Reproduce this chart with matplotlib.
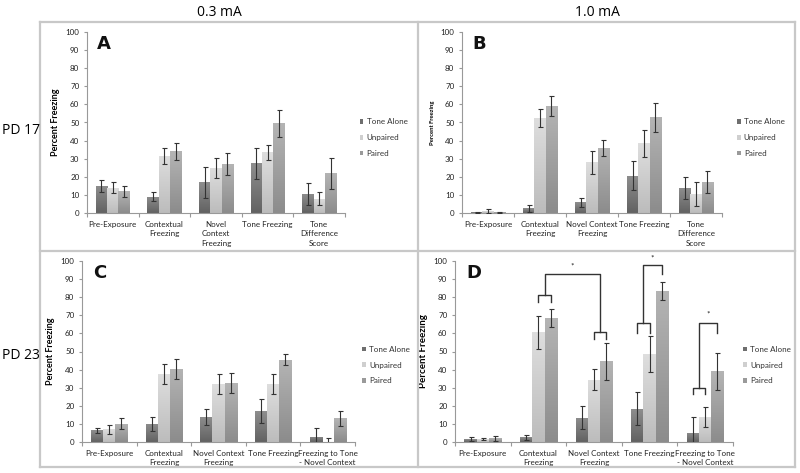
import matplotlib
matplotlib.use("Agg")
import matplotlib.pyplot as plt
import numpy as np
from matplotlib.lines import Line2D
from matplotlib.patches import Patch

plt.rcParams['font.family'] = ['Lato', 'DejaVu Sans']

series = ["Tone Alone", "Unpaired", "Paired"]

cats_A = ["Pre-Exposure", "Contextual\nFreezing", "Novel\nContext\nFreezing", "Tone Freezing", "Tone\nDifference\nScore"]
cats_B = ["Pre-Exposure", "Contextual\nFreezing", "Novel Context\nFreezing", "Tone Freezing", "Tone\nDifference\nScore"]
cats_C = ["Pre-Exposure", "Contextual\nFreezing", "Novel Context\nFreezing", "Tone Freezing", "Freezing to Tone\n- Novel Context"]
cats_D = cats_C

# values [series][category]
A_vals = [[15, 9, 17, 27.5, 10.5], [14, 31.5, 25, 33.5, 8], [12, 34, 27, 49.5, 22]]
A_err = [[3.5, 2.5, 8.5, 8.5, 6], [3, 4.5, 5.5, 4, 3.5], [3, 4.5, 6, 7.5, 8.5]]
B_vals = [[0.5, 2.5, 6, 20.5, 14], [1, 52.5, 28, 38.5, 10.5], [0.5, 59, 36, 53, 17]]
B_err = [[0.3, 1.8, 2.5, 8, 6], [1, 5, 6.5, 7.5, 6.5], [0.3, 5.5, 4.5, 8, 6]]
C_vals = [[6.5, 10, 14, 17, 3], [7, 37.5, 32, 32, 0], [10, 40.5, 32.5, 45.5, 13]]
C_err = [[1.5, 4, 4.5, 6.5, 4.5], [2.5, 5.5, 5.5, 5.5, 2], [3, 5.5, 5.5, 3, 4]]
D_vals = [[1.5, 2.5, 13.5, 18.5, 5], [1.5, 60.5, 34.5, 48.5, 14], [2, 68.5, 44.5, 83.5, 39]]
D_err = [[1, 1.5, 6.5, 9, 9], [0.5, 9, 6, 10, 5.5], [1.5, 5, 10, 5, 10]]

W, H = 800, 473
fig = plt.figure(figsize=(8, 4.73), dpi=100)
fig.patch.set_facecolor("white")

def px_axes(l, r, y0, y100):
    return fig.add_axes([l / W, (H - y0) / H, (r - l) / W, (y0 - y100) / H])

top_colors = ["#8e8e8e", "#dedede", "#b4b4b4"]
bot_colors = ["#626262", "#bcbcbc", "#8c8c8c"]
legend_colors = ["#6e6e6e", "#cfcfcf", "#9a9a9a"]
bw = 0.22

def grad(c1, c2, n=64):
    a = np.array(matplotlib.colors.to_rgb(c1))
    b = np.array(matplotlib.colors.to_rgb(c2))
    t = np.linspace(0, 1, n)[:, None]
    return (a * (1 - t) + b * t)[:, None, :]

def draw_panel(ax, cats, vals, errs, letter, ylab_size, leg_pos):
    x = np.arange(len(cats))
    for i in range(3):
        xs = x + (i - 1) * bw
        bars = ax.bar(xs, vals[i], width=bw, color=legend_colors[i], zorder=2)
        img = grad(top_colors[i], bot_colors[i])
        for b in bars:
            bx = b.get_x()
            h = b.get_height()
            if h <= 0:
                continue
            im = ax.imshow(img, extent=[bx, bx + bw, 0, h], aspect='auto',
                           origin='upper', zorder=2.5)
            im.set_clip_path(b)
        ax.errorbar(xs, vals[i], yerr=errs[i], fmt='none', ecolor='#333333',
                    elinewidth=0.8, capsize=1.8, capthick=0.8, zorder=3)
    ax.set_xlim(-0.5, len(cats) - 0.5)
    ax.set_ylim(0, 100)
    ax.set_yticks(np.arange(0, 101, 10))
    ax.set_xticks(np.arange(-0.5, len(cats), 1.0))
    ax.set_xticklabels([])
    ax.set_xticks(x, minor=True)
    ax.set_xticklabels(cats, minor=True, fontsize=5.8, color="#222222", linespacing=1.35)
    ax.tick_params(axis='x', which='major', length=3, color="#999999", direction='out')
    ax.tick_params(axis='x', which='minor', length=0, pad=6)
    ax.tick_params(axis='y', length=2.5, color="#999999", labelsize=5.8, labelcolor="#222222", pad=3)
    for s in ['top', 'right']:
        ax.spines[s].set_visible(False)
    for s in ['left', 'bottom']:
        ax.spines[s].set_color("#999999")
        ax.spines[s].set_linewidth(0.8)
    ax.set_ylabel("Percent Freezing", fontsize=ylab_size, fontweight='bold', labelpad=4)
    ax.patch.set_alpha(0)
    ax.text(0.04, 0.985, letter, transform=ax.transAxes, fontsize=13, fontweight='bold',
            family='DejaVu Sans', va='top', ha='left', color="#111111")
    handles = [Patch(facecolor=legend_colors[i], edgecolor='none') for i in range(3)]
    leg = ax.legend(handles, series, loc='upper left', bbox_to_anchor=leg_pos,
                    frameon=False, fontsize=5.8, handlelength=0.45, handleheight=0.45,
                    handletextpad=0.4, labelspacing=1.1, borderaxespad=0)
    for t in leg.get_texts():
        t.set_color("#333333")

axA = px_axes(87, 345, 213, 32)
draw_panel(axA, cats_A, A_vals, A_err, "A", 6.5, (1.045, 0.54))
axB = px_axes(462, 722, 213, 32)
draw_panel(axB, cats_B, B_vals, B_err, "B", 4.2, (1.045, 0.54))
axC = px_axes(82, 355, 442, 261)
draw_panel(axC, cats_C, C_vals, C_err, "C", 6.5, (1.015, 0.55))
axD = px_axes(455, 733, 442, 261)
draw_panel(axD, cats_D, D_vals, D_err, "D", 7.0, (1.025, 0.55))

# significance brackets on D (category index, bar offset, heights)
def bracket(ax, xa, xb, ytop, ybot):
    ax.plot([xa, xa, xb, xb], [ybot, ytop, ytop, ybot], color="#333333", lw=1.0,
            zorder=4, clip_on=False)

def link(ax, xa, ya, ytop, xb, yb, star_y):
    ax.plot([xa, xa, xb, xb], [ya, ytop, ytop, yb], color="#333333", lw=1.0,
            zorder=4, clip_on=False)
    ax.text((xa + xb) / 2, star_y, "*", ha='center', va='center', fontsize=6,
            color="#222222", clip_on=False)

# contextual vs novel context
bracket(axD, 1, 1 + bw, 81, 77.5)
bracket(axD, 2, 2 + bw, 61, 57)
link(axD, 1 + bw / 2, 81, 93, 2 + bw / 2, 61, 97)
# tone freezing
bracket(axD, 3 - bw, 3, 66, 60)
link(axD, 3 - bw / 2, 66, 98, 3 + bw, 93, 101.5)
# freezing to tone
bracket(axD, 4 - bw, 4, 30, 26.5)
link(axD, 4 - bw / 2, 30, 66, 4 + bw, 60, 70.5)

# frame lines
lc = "#c8c8c8"
def hline(y, x0, x1):
    fig.add_artist(Line2D([x0 / W, x1 / W], [(H - y) / H, (H - y) / H], color=lc, lw=1.6))
def vline(x, y0, y1):
    fig.add_artist(Line2D([x / W, x / W], [(H - y0) / H, (H - y1) / H], color=lc, lw=1.6))

hline(22, 40, 795)
hline(251, 40, 795)
hline(467, 40, 795)
vline(40, 22, 467)
vline(418, 22, 467)
vline(795, 22, 467)

fig.text(219 / W, (H - 13) / H, "0.3 mA", fontsize=10, ha='center', va='center', family=['Open Sans', 'DejaVu Sans'])
fig.text(597 / W, (H - 13) / H, "1.0 mA", fontsize=10, ha='center', va='center', family=['Open Sans', 'DejaVu Sans'])
fig.text(21 / W, (H - 130) / H, "PD 17", fontsize=10, ha='center', va='center', family=['Open Sans', 'DejaVu Sans'])
fig.text(21 / W, (H - 355) / H, "PD 23", fontsize=10, ha='center', va='center', family=['Open Sans', 'DejaVu Sans'])

fig.savefig("out.png", dpi=100)
